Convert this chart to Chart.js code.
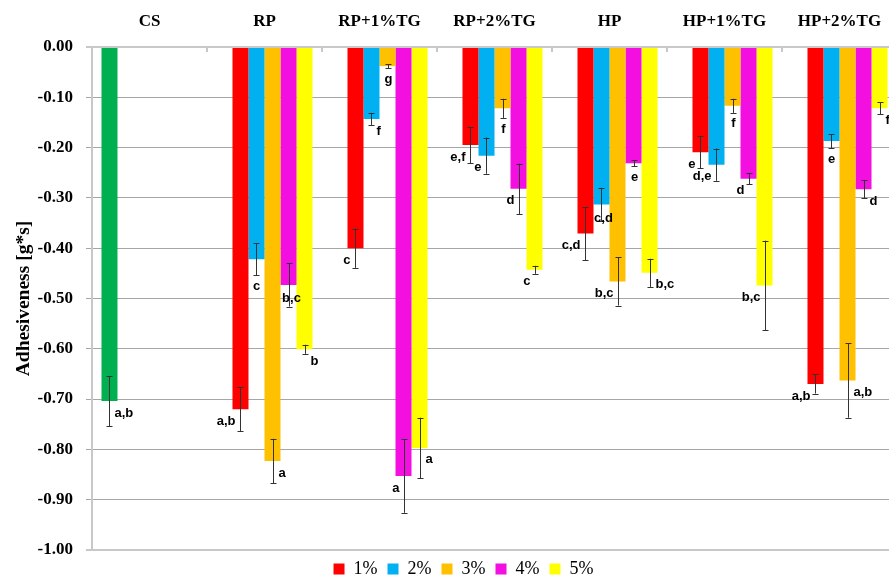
<!DOCTYPE html>
<html>
<head>
    <title>Adhesiveness</title>
    <script src="https://cdn.jsdelivr.net/npm/chart.js"></script>
    <style>
        body { margin: 0; overflow: hidden; background: #fff; }
    </style>
</head>
<body>
    <canvas id="adhChart" width="897" height="588"></canvas>

    <script>
        // categories and series
        const categories = ["CS", "RP", "RP+1%TG", "RP+2%TG", "HP", "HP+1%TG", "HP+2%TG"];
        const seriesNames = ["1%", "2%", "3%", "4%", "5%"];

        // control sample (only in CS)
        const csValue = -0.704;
        const csError = 0.05;
        const csLetter = "a,b";

        // values for RP ... HP+2%TG
        const conc1 = [-0.720, -0.400, -0.195, -0.371, -0.209, -0.670];
        const conc2 = [-0.422, -0.143, -0.216, -0.313, -0.234, -0.187];
        const conc3 = [-0.823, -0.038, -0.122, -0.466, -0.117, -0.663];
        const conc4 = [-0.473, -0.853, -0.282, -0.231, -0.262, -0.283];
        const conc5 = [-0.601, -0.797, -0.443, -0.449, -0.474, -0.122];

        // standard deviations
        const err1 = [0.044, 0.039, 0.036, 0.053, 0.032, 0.019];
        const err2 = [0.032, 0.012, 0.036, 0.033, 0.032, 0.014];
        const err3 = [0.044, 0.004, 0.019, 0.048, 0.014, 0.074];
        const err4 = [0.043, 0.073, 0.050, 0.006, 0.011, 0.018];
        const err5 = [0.009, 0.060, 0.008, 0.028, 0.089, 0.012];

        // significance letters
        const let1 = ["a,b", "c", "e,f", "c,d", "e", "a,b"];
        const let2 = ["c", "f", "e", "c,d", "d,e", "e"];
        const let3 = ["a", "g", "f", "b,c", "f", "a,b"];
        const let4 = ["b,c", "a", "d", "e", "d", "d"];
        const let5 = ["b", "a", "c", "b,c", "b,c", "f"];

        // where the letter sits: l = left, r = right, c = under bar, u = under error bar
        const side1 = ["l", "l", "l", "l", "l", "l"];
        const side2 = ["u", "r", "l", "c", "l", "u"];
        const side3 = ["r", "u", "u", "l", "u", "r"];
        const side4 = ["c", "l", "l", "u", "l", "r"];
        const side5 = ["r", "r", "l", "r", "l", "r"];

        const colors = ["#ff0000", "#00b0f0", "#ffc000", "#f20fe0", "#ffff00"];
        const serif = "'Liberation Serif', 'Times New Roman', serif";

        const values = [conc1, conc2, conc3, conc4, conc5];
        const errs = [err1, err2, err3, err4, err5];
        const lets = [let1, let2, let3, let4, let5];
        const sides = [side1, side2, side3, side4, side5];

        const datasets = [{
            label: "CS",
            data: [csValue, null, null, null, null, null, null],
            errors: [csError],
            letters: [csLetter],
            sides: ["r"],
            backgroundColor: "#00b050"
        }];
        seriesNames.forEach((name, k) => {
            datasets.push({
                label: name,
                data: [null].concat(values[k]),
                errors: [null].concat(errs[k]),
                letters: [null].concat(lets[k]),
                sides: [null].concat(sides[k]),
                backgroundColor: colors[k]
            });
        });

        const annotate = {
            id: "annotate",
            afterLayout(chart) {
                // the legend sits a little right of the canvas centre
                chart.legend.left += 15;
                chart.legend.right += 15;
            },
            afterDatasetsDraw(chart) {
                const ctx = chart.ctx;
                const yScale = chart.scales.y;
                const xScale = chart.scales.x;
                const top = chart.chartArea.top;
                ctx.save();

                // small ticks between categories on the zero line
                ctx.strokeStyle = "#c8c8c8";
                ctx.lineWidth = 2;
                for (let i = 1; i < categories.length; i++) {
                    const xs = Math.round((xScale.getPixelForValue(i - 1) + xScale.getPixelForValue(i)) / 2);
                    ctx.beginPath();
                    ctx.moveTo(xs, top);
                    ctx.lineTo(xs, top + 5);
                    ctx.stroke();
                }

                ctx.lineWidth = 1;
                ctx.font = "bold 13px 'Liberation Sans', Arial, sans-serif";
                ctx.fillStyle = "#000";
                ctx.textBaseline = "middle";
                chart.data.datasets.forEach((ds, di) => {
                    const meta = chart.getDatasetMeta(di);
                    ds.data.forEach((v, i) => {
                        if (v === null) return;
                        const x = Math.round(meta.data[i].x) + 0.5;
                        const e = ds.errors[i];
                        const yEnd = yScale.getPixelForValue(v);
                        const yTop = yScale.getPixelForValue(v + e);
                        const yBot = yScale.getPixelForValue(v - e);
                        ctx.strokeStyle = "#333";
                        ctx.beginPath();
                        ctx.moveTo(x, yTop);
                        ctx.lineTo(x, yBot);
                        ctx.moveTo(x - 3, Math.round(yTop) + 0.5);
                        ctx.lineTo(x + 3, Math.round(yTop) + 0.5);
                        ctx.moveTo(x - 3, Math.round(yBot) + 0.5);
                        ctx.lineTo(x + 3, Math.round(yBot) + 0.5);
                        ctx.stroke();

                        const s = ds.sides[i];
                        if (s === "l") {
                            ctx.textAlign = "right";
                            ctx.fillText(ds.letters[i], x - 5, yEnd + 12);
                        } else if (s === "r") {
                            ctx.textAlign = "left";
                            ctx.fillText(ds.letters[i], x + 5, yEnd + 12);
                        } else if (s === "c") {
                            ctx.textAlign = "center";
                            ctx.fillText(ds.letters[i], x + 2, yEnd + 14);
                        } else {
                            ctx.textAlign = "center";
                            ctx.fillText(ds.letters[i], x, yBot + 11);
                        }
                    });
                });
                ctx.restore();
            }
        };

        const ctx = document.getElementById("adhChart").getContext("2d");
        const adhChart = new Chart(ctx, {
            type: "bar",
            data: {
                labels: categories,
                datasets: datasets
            },
            plugins: [annotate],
            options: {
                responsive: false,
                animation: false,
                layout: { padding: { left: 0, right: 0, top: 0, bottom: 0 } },
                datasets: {
                    bar: { categoryPercentage: 0.835, barPercentage: 1.0 }
                },
                plugins: {
                    tooltip: { enabled: false },
                    legend: {
                        position: "bottom",
                        labels: {
                            boxWidth: 11,
                            boxHeight: 11,
                            padding: 10,
                            color: "#000",
                            font: { family: serif, size: 18 },
                            filter: (item) => item.text !== "CS"
                        }
                    }
                },
                scales: {
                    x: {
                        position: "top",
                        offset: true,
                        grid: { display: false },
                        border: { display: true, color: "#c8c8c8", width: 2 },
                        ticks: {
                            color: "#000",
                            padding: 7,
                            font: { family: serif, size: 17, weight: "bold" }
                        },
                        afterFit: (scale) => { scale.height = 47; }
                    },
                    y: {
                        min: -1,
                        max: 0,
                        afterFit: (scale) => { scale.width = 92; },
                        ticks: {
                            stepSize: 0.1,
                            padding: 13,
                            color: "#000",
                            font: { family: serif, size: 17, weight: "bold" },
                            callback: (v) => v.toFixed(2)
                        },
                        grid: {
                            color: (c) => (c.tick && (c.tick.value <= -0.999 || c.tick.value >= -0.001) ? "#c8c8c8" : "#a6a6a6"),
                            lineWidth: (c) => (c.tick && (c.tick.value <= -0.999 || c.tick.value >= -0.001) ? 2 : 1),
                            tickLength: 6
                        },
                        border: { color: "#c8c8c8", width: 2 },
                        title: {
                            display: true,
                            text: "Adhesiveness [g*s]",
                            color: "#000",
                            padding: { top: 12, bottom: 0 },
                            font: { family: serif, size: 19.5, weight: "bold" }
                        }
                    }
                }
            }
        });
    </script>
</body>
</html>
